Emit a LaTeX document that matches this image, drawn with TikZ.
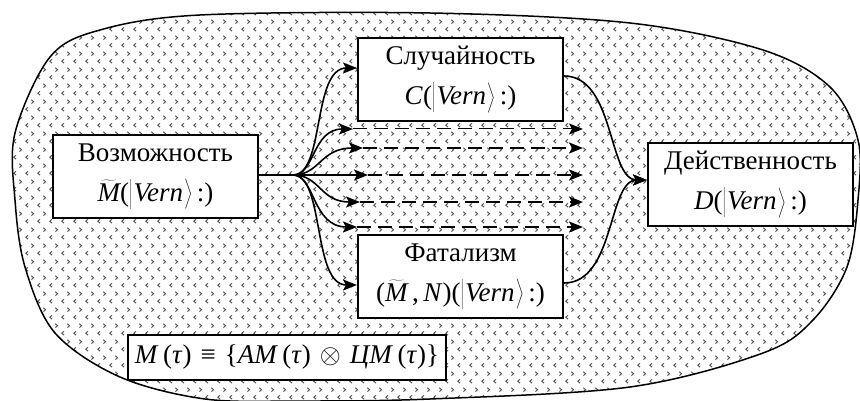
\RequirePackage{fix-cm}
\documentclass[tikz,border=0pt]{standalone}
\usepackage{fontspec}
\setmainfont{Liberation Serif}
\usetikzlibrary{arrows.meta,patterns,calc}
\pgfdeclarepatternformonly{chev}{\pgfqpoint{0pt}{0pt}}{\pgfqpoint{12pt}{16pt}}{\pgfqpoint{12pt}{16pt}}{%
  \pgfsetlinewidth{1.1pt}%
  \pgfpathmoveto{\pgfqpoint{4.3pt}{2pt}}\pgfpathlineto{\pgfqpoint{2pt}{4pt}}\pgfpathlineto{\pgfqpoint{4.3pt}{6pt}}%
  \pgfpathmoveto{\pgfqpoint{8pt}{10pt}}\pgfpathlineto{\pgfqpoint{10.3pt}{12pt}}\pgfpathlineto{\pgfqpoint{8pt}{14pt}}%
  \pgfusepath{stroke}%
}
\newcommand\myMt{$\widetilde{\mbox{\itshape M}}$}
\newcommand\myvb{$\left|\vrule height 22pt depth 7pt width 0pt\right.$}
\newcommand\myket{$\left.\vrule height 22pt depth 7pt width 0pt\right\rangle$}
\begin{document}
\begin{tikzpicture}[x=1pt,y=-1pt,
  box/.style={draw,line width=2pt,fill=white,minimum width=205pt,minimum height=83pt,inner sep=0pt,align=center,font=\fontsize{27}{40}\selectfont},
  arr/.style={line width=1.6pt,-{Stealth[length=14pt,width=11pt,inset=3pt]}},
  dsh/.style={arr,dash pattern=on 14pt off 7pt}]
\useasboundingbox (0,0) rectangle (860,401);
\begin{scope}
\clip (0,0) rectangle (860,401);
\draw[line width=1.5pt,pattern=chev,pattern color=black!65]
  plot[smooth cycle,tension=0.55] coordinates {(15,133) (50,57) (100,30) (200,15) (430,13) (630,23) (763,50) (830,87) (858,140) (858,200) (847,267) (813,320) (763,353) (630,387) (430,399) (300,401) (205,399) (120,377) (55,333) (25,267) (15,200)};
\end{scope}
\node[box] (vozm) at (155.5,176.5) {Возможность\\\myMt(\myvb\textit{Vern}\myket\,:)};
\node[box] (sluch) at (460.5,79.5) {Случайность\\\textit{C}(\myvb\textit{Vern}\myket\,:)};
\node[box] (fatal) at (460.5,276.5) {Фатализм\\(\myMt\,,\,\textit{N})(\myvb\textit{Vern}\myket\,:)};
\node[box] (deist) at (750.5,184.5) {Действенность\\\textit{D}(\myvb\textit{Vern}\myket\,:)};
\node[draw,line width=2pt,fill=white,minimum width=318pt,minimum height=45pt,inner sep=0pt,font=\fontsize{27}{40}\selectfont] (form) at (287,357.5)
  {\textit{M}\,(\textit{τ})\,\,≡\,\,\{\textit{AM}\,(\textit{τ})\,\,$\otimes$\,\,\textit{ЦM}\,(\textit{τ})\}};
\coordinate (F) at (293,175);
\draw[line width=1.6pt] (vozm.east |- F) -- (F);
\draw[arr] (F) .. controls (325,175) and (312,68) .. (sluch.west |- 0,68);
\draw[arr] (F) .. controls (325,175) and (312,285) .. (fatal.west |- 0,285);
\coordinate (t1) at (353,129); \coordinate (e1) at (583,129);
\coordinate (t2) at (363,148); \coordinate (e2) at (583,148);
\coordinate (t3) at (368,175); \coordinate (e3) at (583,175);
\coordinate (t4) at (360,202); \coordinate (e4) at (583,202);
\coordinate (t5) at (357,227); \coordinate (e5) at (583,227);
\draw[arr] (F) .. controls (315,175) and (312,129) .. (t1);
\draw[arr] (F) .. controls (320,175) and (320,148) .. (t2);
\draw[arr] (F) -- (t3);
\draw[arr] (F) .. controls (320,175) and (320,202) .. (t4);
\draw[arr] (F) .. controls (315,175) and (312,227) .. (t5);
\draw[dsh,line width=1pt] (t1) -- (e1);
\draw[dsh] (t2) -- (e2);
\draw[dsh] (t3) -- (e3);
\draw[dsh] (t4) -- (e4);
\draw[dsh] (t5) -- (e5);
\draw[arr] (sluch.east |- 0,76) .. controls (615,76) and (608,180) .. (deist.west |- 0,180);
\draw[arr] (fatal.east |- 0,283) .. controls (615,283) and (608,180) .. (deist.west |- 0,180);
\end{tikzpicture}
\end{document}
